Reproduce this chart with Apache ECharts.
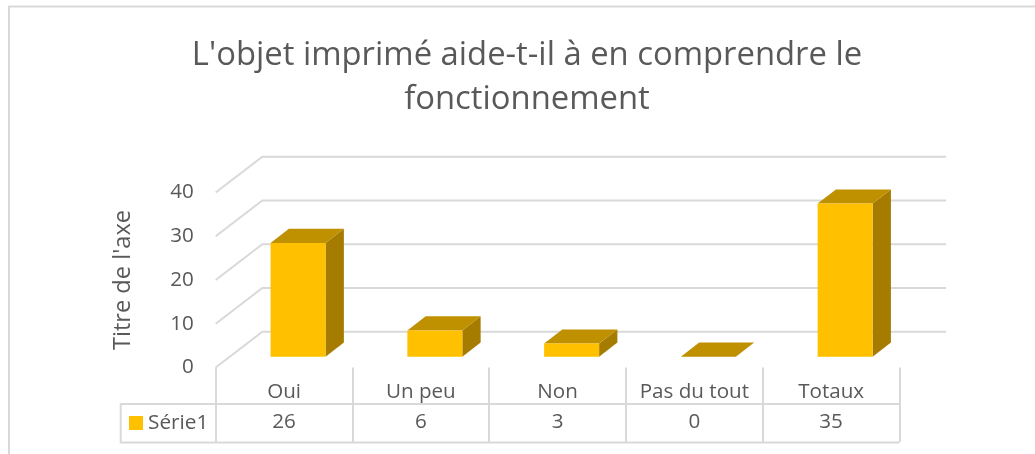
<!DOCTYPE html>
<html>
<head>
<meta charset="utf-8">
<style>html,body{margin:0;padding:0;background:#fff}#c{width:1035px;height:454px}</style>
<script src="https://cdn.jsdelivr.net/npm/echarts@6/dist/echarts.min.js"></script>
</head>
<body>
<div id="c"></div>
<script>
const titleLines = ["L'objet imprimé aide-t-il à en comprendre le", "fonctionnement"];
const categories = ["Oui", "Un peu", "Non", "Pas du tout", "Totaux"];
const values = [26, 6, 3, 0, 35];
const seriesName = "Série1";
const yTicks = [0, 10, 20, 30, 40];
const yAxisTitle = "Titre de l'axe";

const FONT = '"Open Sans","Noto Sans",sans-serif';
const TEXT = '#595959', LINE = '#d9d9d9';
const FRONT = '#FFC000', TOP = '#BF9000', SIDE = '#A67C00';
const WALL_DX = 46.6, WALL_DY = 35.8;
const BAR_OFF_X = 14, BAR_OFF_Y = 10.8, BAR_W = 55, BAR_DX = 18.3, BAR_DY = 14.2;
const LW = 2;

const chart = echarts.init(document.getElementById('c'), null, {renderer: 'canvas'});

function renderWall(params, api) {
  const v = api.value(0);
  const a = api.coord([0, v]);
  const left = params.coordSys.x, right = left + params.coordSys.width;
  return {
    type: 'polyline', silent: true,
    shape: {points: [[left, a[1]], [left + WALL_DX, a[1] - WALL_DY], [right + WALL_DX, a[1] - WALL_DY]]},
    style: {stroke: LINE, lineWidth: LW, fill: null}
  };
}

function renderBar(params, api) {
  const cat = api.value(0), v = api.value(1);
  const top = api.coord([cat, v]), base = api.coord([cat, 0]);
  const x0 = top[0] + BAR_OFF_X - BAR_W / 2, x1 = x0 + BAR_W;
  const yT = top[1] - BAR_OFF_Y, yB = base[1] - BAR_OFF_Y;
  const children = [
    {type: 'polygon', shape: {points: [[x1, yT], [x1 + BAR_DX, yT - BAR_DY], [x1 + BAR_DX, yB - BAR_DY], [x1, yB]]},
     style: {fill: SIDE}},
    {type: 'polygon', shape: {points: [[x0, yT], [x1, yT], [x1 + BAR_DX, yT - BAR_DY], [x0 + BAR_DX, yT - BAR_DY]]},
     style: {fill: TOP}}
  ];
  if (v > 0) children.push({type: 'rect', shape: {x: x0, y: yT, width: BAR_W, height: yB - yT}, style: {fill: FRONT}});
  return {type: 'group', children};
}

chart.setOption({
  animation: false,
  backgroundColor: '#fff',
  title: {
    text: titleLines.join('\n'),
    left: 522, top: 29, textAlign: 'center',
    textStyle: {fontFamily: FONT, fontSize: 32.8, fontWeight: 'normal', color: TEXT, lineHeight: 44}
  },
  legend: {
    data: [{name: seriesName, icon: 'rect', itemStyle: {color: FRONT}}],
    left: 129, top: 412.5, itemWidth: 14, itemHeight: 14, itemGap: 0, padding: 0,
    textStyle: {fontFamily: FONT, fontSize: 20.8, color: TEXT, padding: [0, 0, 0, 0]},
    selectedMode: false
  },
  grid: {left: 215.7, top: 192.5, width: 683.8, height: 175},
  xAxis: [
    {type: 'category', data: categories, position: 'bottom',
     axisLine: {show: false},
     axisTick: {show: true, interval: 0, length: 36.5, lineStyle: {color: LINE, width: LW}},
     axisLabel: {interval: 0, fontFamily: FONT, fontSize: 20.6, color: TEXT, margin: 14},
     splitLine: {show: false}},
    {type: 'category', data: values.map(String), position: 'bottom', offset: 36.5,
     axisLine: {show: true, lineStyle: {color: LINE, width: LW}},
     axisTick: {show: true, interval: 0, length: 38, lineStyle: {color: LINE, width: LW}},
     axisLabel: {interval: 0, fontFamily: FONT, fontSize: 20.6, color: TEXT, margin: 8},
     splitLine: {show: false}}
  ],
  yAxis: {
    type: 'value', min: 0, max: 40, interval: 10,
    name: yAxisTitle, nameLocation: 'middle', nameRotate: 90, nameGap: 80,
    nameTextStyle: {fontFamily: FONT, fontSize: 23.6, color: TEXT},
    axisLine: {show: false}, axisTick: {show: false}, splitLine: {show: false},
    axisLabel: {fontFamily: FONT, fontSize: 20.6, color: TEXT, margin: 22}
  },
  series: [
    {type: 'custom', name: 'walls', coordinateSystem: 'cartesian2d', silent: true, z: 1,
     data: yTicks.map(t => [t]), encode: {y: 0}, renderItem: renderWall, clip: false},
    {type: 'custom', name: seriesName, coordinateSystem: 'cartesian2d', z: 2,
     itemStyle: {color: FRONT},
     data: values.map((v, i) => [i, v]), encode: {x: 0, y: 1}, renderItem: renderBar, clip: false}
  ],
  graphic: [
    {type: 'polyline', silent: true, shape: {points: [[1035, 6.5], [9, 6.5], [9, 454]]},
     style: {stroke: LINE, lineWidth: LW, fill: null}},
    {type: 'polyline', silent: true, shape: {points: [[215.7, 404], [120.7, 404], [120.7, 442.4], [899.5, 442.4]]},
     style: {stroke: LINE, lineWidth: LW, fill: null}}
  ]
});
</script>
</body>
</html>
